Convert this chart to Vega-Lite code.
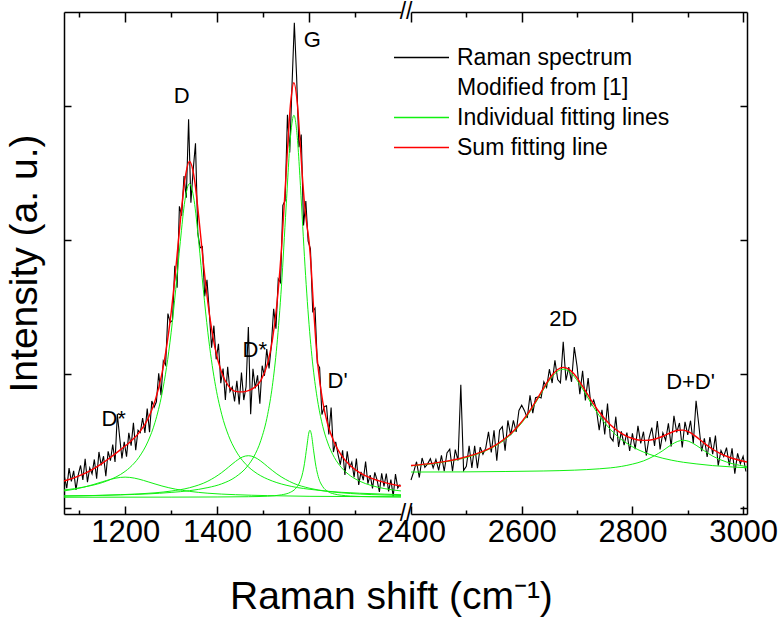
{
"$schema":"https://vega.github.io/schema/vega-lite/v6.json",
"padding":{"left":5,"top":1,"right":2,"bottom":4},
"config":{"view":{"stroke":null},"font":"Liberation Sans",
"axis":{"domainColor":"#000","domainWidth":1.5,"tickColor":"#000","tickWidth":1.5,"labelColor":"#000","labelFont":"Liberation Sans","labelFontSize":31,"labelFlush":false,"labelOverlap":false,"grid":false,"titleColor":"#000","titleFont":"Liberation Sans","titleFontWeight":"normal"}},
"title":{"text":"Raman shift (cm⁻¹)","orient":"bottom","anchor":"middle","fontSize":39,"font":"Liberation Sans","fontWeight":"normal","color":"#000","offset":31},
"datasets":{
"specL":[{"x":1068,"y":0.233},{"x":1073,"y":0.147},{"x":1078,"y":0.297},{"x":1083,"y":0.199},{"x":1088,"y":0.277},{"x":1093,"y":0.135},{"x":1098,"y":0.247},{"x":1103,"y":0.317},{"x":1108,"y":0.209},{"x":1113,"y":0.366},{"x":1118,"y":0.193},{"x":1123,"y":0.299},{"x":1128,"y":0.254},{"x":1133,"y":0.362},{"x":1138,"y":0.219},{"x":1143,"y":0.418},{"x":1148,"y":0.317},{"x":1153,"y":0.386},{"x":1158,"y":0.237},{"x":1163,"y":0.423},{"x":1168,"y":0.353},{"x":1173,"y":0.473},{"x":1178,"y":0.344},{"x":1183,"y":0.700},{"x":1188,"y":0.529},{"x":1193,"y":0.370},{"x":1198,"y":0.494},{"x":1203,"y":0.383},{"x":1208,"y":0.560},{"x":1213,"y":0.464},{"x":1218,"y":0.635},{"x":1223,"y":0.431},{"x":1228,"y":0.580},{"x":1233,"y":0.562},{"x":1238,"y":0.671},{"x":1243,"y":0.560},{"x":1248,"y":0.742},{"x":1253,"y":0.565},{"x":1258,"y":0.798},{"x":1263,"y":0.751},{"x":1268,"y":0.792},{"x":1273,"y":1.005},{"x":1278,"y":0.842},{"x":1283,"y":1.098},{"x":1288,"y":1.067},{"x":1293,"y":1.450},{"x":1298,"y":1.384},{"x":1303,"y":1.400},{"x":1308,"y":1.807},{"x":1313,"y":1.643},{"x":1318,"y":2.250},{"x":1323,"y":2.180},{"x":1328,"y":2.477},{"x":1333,"y":2.314},{"x":1338,"y":2.900},{"x":1343,"y":2.278},{"x":1348,"y":2.523},{"x":1353,"y":2.720},{"x":1358,"y":2.050},{"x":1363,"y":1.941},{"x":1368,"y":1.950},{"x":1373,"y":1.579},{"x":1378,"y":1.702},{"x":1383,"y":1.464},{"x":1388,"y":1.195},{"x":1393,"y":1.360},{"x":1398,"y":1.109},{"x":1403,"y":1.225},{"x":1408,"y":0.931},{"x":1413,"y":1.040},{"x":1418,"y":0.806},{"x":1423,"y":1.053},{"x":1428,"y":0.869},{"x":1433,"y":0.903},{"x":1438,"y":0.795},{"x":1443,"y":0.949},{"x":1448,"y":0.773},{"x":1453,"y":1.010},{"x":1458,"y":0.805},{"x":1463,"y":0.904},{"x":1468,"y":1.350},{"x":1473,"y":0.700},{"x":1478,"y":1.039},{"x":1483,"y":0.892},{"x":1488,"y":0.990},{"x":1493,"y":0.778},{"x":1498,"y":1.061},{"x":1503,"y":0.986},{"x":1508,"y":1.186},{"x":1513,"y":1.041},{"x":1518,"y":1.214},{"x":1523,"y":1.486},{"x":1528,"y":1.338},{"x":1533,"y":1.710},{"x":1538,"y":1.681},{"x":1543,"y":2.258},{"x":1548,"y":2.293},{"x":1553,"y":2.933},{"x":1558,"y":2.652},{"x":1563,"y":3.159},{"x":1568,"y":3.620},{"x":1573,"y":3.213},{"x":1578,"y":2.691},{"x":1583,"y":2.786},{"x":1588,"y":2.107},{"x":1593,"y":2.289},{"x":1598,"y":1.991},{"x":1603,"y":1.934},{"x":1608,"y":1.466},{"x":1613,"y":1.490},{"x":1618,"y":1.078},{"x":1623,"y":1.046},{"x":1628,"y":0.697},{"x":1633,"y":0.756},{"x":1638,"y":0.762},{"x":1643,"y":0.549},{"x":1648,"y":0.750},{"x":1653,"y":0.417},{"x":1658,"y":0.494},{"x":1663,"y":0.400},{"x":1668,"y":0.323},{"x":1673,"y":0.430},{"x":1678,"y":0.246},{"x":1683,"y":0.423},{"x":1688,"y":0.301},{"x":1693,"y":0.341},{"x":1698,"y":0.229},{"x":1703,"y":0.369},{"x":1708,"y":0.172},{"x":1713,"y":0.269},{"x":1718,"y":0.208},{"x":1723,"y":0.347},{"x":1728,"y":0.181},{"x":1733,"y":0.245},{"x":1738,"y":0.146},{"x":1743,"y":0.266},{"x":1748,"y":0.208},{"x":1753,"y":0.120},{"x":1758,"y":0.258},{"x":1763,"y":0.160},{"x":1768,"y":0.257},{"x":1773,"y":0.124},{"x":1778,"y":0.211},{"x":1783,"y":0.086},{"x":1788,"y":0.253},{"x":1793,"y":0.149},{"x":1798,"y":0.175}],
"fitL":[{"c":"D","x":1067,"y":0.134},{"c":"D","x":1090,"y":0.144},{"c":"D","x":1110,"y":0.156},{"c":"D","x":1130,"y":0.170},{"c":"D","x":1150,"y":0.189},{"c":"D","x":1170,"y":0.215},{"c":"D","x":1190,"y":0.250},{"c":"D","x":1200,"y":0.273},{"c":"D","x":1210,"y":0.301},{"c":"D","x":1230,"y":0.378},{"c":"D","x":1250,"y":0.499},{"c":"D","x":1265,"y":0.639},{"c":"D","x":1280,"y":0.850},{"c":"D","x":1290,"y":1.048},{"c":"D","x":1300,"y":1.307},{"c":"D","x":1310,"y":1.630},{"c":"D","x":1320,"y":1.987},{"c":"D","x":1330,"y":2.294},{"c":"D","x":1340,"y":2.420},{"c":"D","x":1350,"y":2.294},{"c":"D","x":1360,"y":1.987},{"c":"D","x":1370,"y":1.630},{"c":"D","x":1380,"y":1.307},{"c":"D","x":1395,"y":0.942},{"c":"D","x":1410,"y":0.699},{"c":"D","x":1425,"y":0.539},{"c":"D","x":1440,"y":0.431},{"c":"D","x":1455,"y":0.355},{"c":"D","x":1468,"y":0.307},{"c":"D","x":1480,"y":0.273},{"c":"D","x":1495,"y":0.240},{"c":"D","x":1510,"y":0.215},{"c":"D","x":1530,"y":0.189},{"c":"D","x":1550,"y":0.170},{"c":"D","x":1575,"y":0.152},{"c":"D","x":1600,"y":0.140},{"c":"D","x":1630,"y":0.128},{"c":"D","x":1670,"y":0.117},{"c":"D","x":1710,"y":0.110},{"c":"D","x":1765,"y":0.103},{"c":"D","x":1800,"y":0.099},
{"c":"G","x":1067,"y":0.090},{"c":"G","x":1130,"y":0.093},{"c":"G","x":1190,"y":0.098},{"c":"G","x":1250,"y":0.105},{"c":"G","x":1300,"y":0.116},{"c":"G","x":1340,"y":0.129},{"c":"G","x":1380,"y":0.152},{"c":"G","x":1410,"y":0.180},{"c":"G","x":1440,"y":0.231},{"c":"G","x":1468,"y":0.320},{"c":"G","x":1480,"y":0.383},{"c":"G","x":1495,"y":0.502},{"c":"G","x":1510,"y":0.698},{"c":"G","x":1520,"y":0.905},{"c":"G","x":1530,"y":1.211},{"c":"G","x":1540,"y":1.655},{"c":"G","x":1550,"y":2.238},{"c":"G","x":1560,"y":2.783},{"c":"G","x":1567,"y":2.930},{"c":"G","x":1575,"y":2.741},{"c":"G","x":1580,"y":2.479},{"c":"G","x":1585,"y":2.176},{"c":"G","x":1590,"y":1.875},{"c":"G","x":1595,"y":1.603},{"c":"G","x":1600,"y":1.370},{"c":"G","x":1605,"y":1.174},{"c":"G","x":1610,"y":1.013},{"c":"G","x":1615,"y":0.881},{"c":"G","x":1620,"y":0.772},{"c":"G","x":1630,"y":0.607},{"c":"G","x":1640,"y":0.492},{"c":"G","x":1655,"y":0.377},{"c":"G","x":1670,"y":0.303},{"c":"G","x":1690,"y":0.240},{"c":"G","x":1710,"y":0.200},{"c":"G","x":1735,"y":0.168},{"c":"G","x":1765,"y":0.144},{"c":"G","x":1800,"y":0.127},
{"c":"D2","x":1067,"y":0.089},{"c":"D2","x":1110,"y":0.091},{"c":"D2","x":1150,"y":0.094},{"c":"D2","x":1190,"y":0.099},{"c":"D2","x":1230,"y":0.105},{"c":"D2","x":1265,"y":0.113},{"c":"D2","x":1300,"y":0.126},{"c":"D2","x":1340,"y":0.151},{"c":"D2","x":1380,"y":0.200},{"c":"D2","x":1410,"y":0.264},{"c":"D2","x":1425,"y":0.305},{"c":"D2","x":1440,"y":0.347},{"c":"D2","x":1455,"y":0.380},{"c":"D2","x":1468,"y":0.390},{"c":"D2","x":1480,"y":0.381},{"c":"D2","x":1495,"y":0.350},{"c":"D2","x":1510,"y":0.308},{"c":"D2","x":1530,"y":0.254},{"c":"D2","x":1567,"y":0.183},{"c":"D2","x":1600,"y":0.148},{"c":"D2","x":1640,"y":0.124},{"c":"D2","x":1690,"y":0.108},{"c":"D2","x":1735,"y":0.100},{"c":"D2","x":1800,"y":0.093},
{"c":"Dp","x":1067,"y":0.080},{"c":"Dp","x":1300,"y":0.081},{"c":"Dp","x":1400,"y":0.082},{"c":"Dp","x":1468,"y":0.084},{"c":"Dp","x":1510,"y":0.088},{"c":"Dp","x":1540,"y":0.098},{"c":"Dp","x":1560,"y":0.118},{"c":"Dp","x":1570,"y":0.142},{"c":"Dp","x":1580,"y":0.195},{"c":"Dp","x":1585,"y":0.246},{"c":"Dp","x":1590,"y":0.330},{"c":"Dp","x":1595,"y":0.453},{"c":"Dp","x":1600,"y":0.567},{"c":"Dp","x":1602,"y":0.580},{"c":"Dp","x":1605,"y":0.551},{"c":"Dp","x":1610,"y":0.426},{"c":"Dp","x":1615,"y":0.310},{"c":"Dp","x":1620,"y":0.234},{"c":"Dp","x":1630,"y":0.158},{"c":"Dp","x":1640,"y":0.125},{"c":"Dp","x":1655,"y":0.104},{"c":"Dp","x":1670,"y":0.095},{"c":"Dp","x":1690,"y":0.089},{"c":"Dp","x":1735,"y":0.084},{"c":"Dp","x":1800,"y":0.082},
{"c":"Ds","x":1067,"y":0.127},{"c":"Ds","x":1090,"y":0.140},{"c":"Ds","x":1110,"y":0.155},{"c":"Ds","x":1130,"y":0.174},{"c":"Ds","x":1150,"y":0.195},{"c":"Ds","x":1170,"y":0.215},{"c":"Ds","x":1190,"y":0.228},{"c":"Ds","x":1200,"y":0.230},{"c":"Ds","x":1210,"y":0.228},{"c":"Ds","x":1230,"y":0.215},{"c":"Ds","x":1250,"y":0.195},{"c":"Ds","x":1280,"y":0.164},{"c":"Ds","x":1310,"y":0.140},{"c":"Ds","x":1340,"y":0.124},{"c":"Ds","x":1380,"y":0.110},{"c":"Ds","x":1440,"y":0.099},{"c":"Ds","x":1510,"y":0.092},{"c":"Ds","x":1600,"y":0.087},{"c":"Ds","x":1700,"y":0.085},{"c":"Ds","x":1800,"y":0.083}],
"sumL":[{"x":1067,"y":0.201},{"x":1090,"y":0.226},{"x":1110,"y":0.254},{"x":1130,"y":0.290},{"x":1150,"y":0.333},{"x":1170,"y":0.382},{"x":1190,"y":0.435},{"x":1200,"y":0.462},{"x":1210,"y":0.491},{"x":1230,"y":0.560},{"x":1250,"y":0.668},{"x":1265,"y":0.799},{"x":1280,"y":1.003},{"x":1290,"y":1.198},{"x":1300,"y":1.456},{"x":1310,"y":1.780},{"x":1320,"y":2.140},{"x":1330,"y":2.452},{"x":1340,"y":2.585},{"x":1350,"y":2.469},{"x":1360,"y":2.175},{"x":1370,"y":1.833},{"x":1380,"y":1.530},{"x":1395,"y":1.202},{"x":1410,"y":1.009},{"x":1425,"y":0.909},{"x":1440,"y":0.870},{"x":1455,"y":0.866},{"x":1468,"y":0.876},{"x":1480,"y":0.896},{"x":1495,"y":0.950},{"x":1510,"y":1.081},{"x":1520,"y":1.247},{"x":1530,"y":1.518},{"x":1540,"y":1.932},{"x":1550,"y":2.492},{"x":1560,"y":3.026},{"x":1567,"y":3.172},{"x":1575,"y":2.997},{"x":1580,"y":2.759},{"x":1585,"y":2.498},{"x":1590,"y":2.274},{"x":1595,"y":2.118},{"x":1600,"y":1.991},{"x":1605,"y":1.774},{"x":1610,"y":1.482},{"x":1615,"y":1.228},{"x":1620,"y":1.038},{"x":1630,"y":0.788},{"x":1640,"y":0.632},{"x":1655,"y":0.486},{"x":1670,"y":0.394},{"x":1690,"y":0.315},{"x":1710,"y":0.264},{"x":1735,"y":0.222},{"x":1765,"y":0.189},{"x":1800,"y":0.164}],
"specR":[{"x":2400,"y":0.209},{"x":2405,"y":0.271},{"x":2410,"y":0.345},{"x":2415,"y":0.227},{"x":2420,"y":0.373},{"x":2425,"y":0.303},{"x":2430,"y":0.329},{"x":2435,"y":0.368},{"x":2440,"y":0.299},{"x":2445,"y":0.362},{"x":2450,"y":0.281},{"x":2455,"y":0.392},{"x":2460,"y":0.274},{"x":2465,"y":0.410},{"x":2470,"y":0.438},{"x":2475,"y":0.274},{"x":2480,"y":0.436},{"x":2485,"y":0.354},{"x":2490,"y":0.920},{"x":2495,"y":0.280},{"x":2500,"y":0.310},{"x":2505,"y":0.463},{"x":2510,"y":0.298},{"x":2515,"y":0.463},{"x":2520,"y":0.296},{"x":2525,"y":0.454},{"x":2530,"y":0.400},{"x":2535,"y":0.446},{"x":2540,"y":0.568},{"x":2545,"y":0.414},{"x":2550,"y":0.579},{"x":2555,"y":0.352},{"x":2560,"y":0.580},{"x":2565,"y":0.606},{"x":2570,"y":0.428},{"x":2575,"y":0.653},{"x":2580,"y":0.543},{"x":2585,"y":0.653},{"x":2590,"y":0.567},{"x":2595,"y":0.727},{"x":2600,"y":0.766},{"x":2605,"y":0.726},{"x":2610,"y":0.671},{"x":2615,"y":0.841},{"x":2620,"y":0.707},{"x":2625,"y":0.823},{"x":2630,"y":0.829},{"x":2635,"y":0.821},{"x":2640,"y":0.942},{"x":2645,"y":0.899},{"x":2650,"y":1.035},{"x":2655,"y":0.932},{"x":2660,"y":1.102},{"x":2665,"y":0.958},{"x":2670,"y":0.934},{"x":2675,"y":1.240},{"x":2680,"y":0.951},{"x":2685,"y":1.051},{"x":2690,"y":0.941},{"x":2695,"y":1.200},{"x":2700,"y":1.056},{"x":2705,"y":0.849},{"x":2710,"y":1.024},{"x":2715,"y":0.802},{"x":2720,"y":0.969},{"x":2725,"y":0.765},{"x":2730,"y":0.806},{"x":2735,"y":0.733},{"x":2740,"y":0.580},{"x":2745,"y":0.733},{"x":2750,"y":0.548},{"x":2755,"y":0.779},{"x":2760,"y":0.528},{"x":2765,"y":0.499},{"x":2770,"y":0.681},{"x":2775,"y":0.456},{"x":2780,"y":0.571},{"x":2785,"y":0.469},{"x":2790,"y":0.563},{"x":2795,"y":0.425},{"x":2800,"y":0.557},{"x":2805,"y":0.438},{"x":2810,"y":0.613},{"x":2815,"y":0.482},{"x":2820,"y":0.569},{"x":2825,"y":0.391},{"x":2830,"y":0.522},{"x":2835,"y":0.600},{"x":2840,"y":0.462},{"x":2845,"y":0.649},{"x":2850,"y":0.437},{"x":2855,"y":0.561},{"x":2860,"y":0.505},{"x":2865,"y":0.632},{"x":2870,"y":0.458},{"x":2875,"y":0.687},{"x":2880,"y":0.564},{"x":2885,"y":0.634},{"x":2890,"y":0.451},{"x":2895,"y":0.643},{"x":2900,"y":0.545},{"x":2905,"y":0.651},{"x":2910,"y":0.481},{"x":2915,"y":0.800},{"x":2920,"y":0.617},{"x":2925,"y":0.423},{"x":2930,"y":0.520},{"x":2935,"y":0.380},{"x":2940,"y":0.528},{"x":2945,"y":0.401},{"x":2950,"y":0.540},{"x":2955,"y":0.316},{"x":2960,"y":0.428},{"x":2965,"y":0.384},{"x":2970,"y":0.450},{"x":2975,"y":0.318},{"x":2980,"y":0.445},{"x":2985,"y":0.256},{"x":2990,"y":0.408},{"x":2995,"y":0.331},{"x":3000,"y":0.386},{"x":3005,"y":0.272}],
"fitR":[{"c":"2D","x":2400,"y":0.314},{"c":"2D","x":2430,"y":0.326},{"c":"2D","x":2460,"y":0.343},{"c":"2D","x":2490,"y":0.366},{"c":"2D","x":2520,"y":0.402},{"c":"2D","x":2545,"y":0.446},{"c":"2D","x":2570,"y":0.511},{"c":"2D","x":2590,"y":0.587},{"c":"2D","x":2610,"y":0.689},{"c":"2D","x":2625,"y":0.784},{"c":"2D","x":2640,"y":0.888},{"c":"2D","x":2655,"y":0.980},{"c":"2D","x":2665,"y":1.020},{"c":"2D","x":2675,"y":1.035},{"c":"2D","x":2685,"y":1.020},{"c":"2D","x":2695,"y":0.980},{"c":"2D","x":2710,"y":0.888},{"c":"2D","x":2725,"y":0.784},{"c":"2D","x":2740,"y":0.689},{"c":"2D","x":2760,"y":0.587},{"c":"2D","x":2780,"y":0.511},{"c":"2D","x":2800,"y":0.457},{"c":"2D","x":2820,"y":0.417},{"c":"2D","x":2840,"y":0.388},{"c":"2D","x":2870,"y":0.357},{"c":"2D","x":2892,"y":0.341},{"c":"2D","x":2915,"y":0.329},{"c":"2D","x":2945,"y":0.316},{"c":"2D","x":2980,"y":0.306},{"c":"2D","x":3007,"y":0.300},
{"c":"DD","x":2400,"y":0.268},{"c":"DD","x":2490,"y":0.269},{"c":"DD","x":2570,"y":0.272},{"c":"DD","x":2640,"y":0.276},{"c":"DD","x":2695,"y":0.282},{"c":"DD","x":2740,"y":0.292},{"c":"DD","x":2760,"y":0.299},{"c":"DD","x":2780,"y":0.310},{"c":"DD","x":2800,"y":0.327},{"c":"DD","x":2820,"y":0.351},{"c":"DD","x":2840,"y":0.390},{"c":"DD","x":2855,"y":0.428},{"c":"DD","x":2870,"y":0.471},{"c":"DD","x":2882,"y":0.497},{"c":"DD","x":2892,"y":0.505},{"c":"DD","x":2902,"y":0.497},{"c":"DD","x":2915,"y":0.468},{"c":"DD","x":2930,"y":0.426},{"c":"DD","x":2945,"y":0.387},{"c":"DD","x":2960,"y":0.358},{"c":"DD","x":2980,"y":0.331},{"c":"DD","x":3007,"y":0.308}],
"sumR":[{"x":2400,"y":0.317},{"x":2430,"y":0.329},{"x":2460,"y":0.346},{"x":2490,"y":0.371},{"x":2520,"y":0.407},{"x":2545,"y":0.451},{"x":2570,"y":0.518},{"x":2590,"y":0.594},{"x":2610,"y":0.698},{"x":2625,"y":0.794},{"x":2640,"y":0.898},{"x":2655,"y":0.992},{"x":2665,"y":1.033},{"x":2675,"y":1.049},{"x":2685,"y":1.036},{"x":2695,"y":0.997},{"x":2710,"y":0.907},{"x":2725,"y":0.807},{"x":2740,"y":0.716},{"x":2760,"y":0.621},{"x":2780,"y":0.557},{"x":2800,"y":0.518},{"x":2820,"y":0.504},{"x":2840,"y":0.513},{"x":2855,"y":0.535},{"x":2870,"y":0.563},{"x":2882,"y":0.580},{"x":2892,"y":0.581},{"x":2902,"y":0.567},{"x":2915,"y":0.532},{"x":2930,"y":0.482},{"x":2945,"y":0.438},{"x":2960,"y":0.404},{"x":2980,"y":0.371},{"x":3007,"y":0.343}],
"labL":[{"x":1323,"y":3.07,"t":"D"},{"x":1607,"y":3.49,"t":"G"},{"x":1175,"y":0.66,"t":"D*"},{"x":1482,"y":1.175,"t":"D*"},{"x":1662,"y":0.944,"t":"D'"}],
"labR":[{"x":2675,"y":1.407,"t":"2D"},{"x":2905,"y":0.937,"t":"D+D'"}],
"brk":[{"x":1811,"y":-0.045,"t":"//"},{"x":1811,"y":3.7,"t":"//"}]
},
"spacing":10,
"bounds":"flush",
"hconcat":[
{"width":337,"height":502,
"layer":[
{"data":{"name":"specL"},"mark":{"type":"line","strokeWidth":1.1},
"encoding":{"x":{"field":"x","type":"quantitative","scale":{"domain":[1067,1800],"nice":false,"zero":false},"axis":{"orient":"bottom","values":[1200,1400,1600],"format":"d","tickSize":-8,"labelPadding":11,"labelFontSize":31,"labelFlush":false,"title":null}},
"y":{"field":"y","type":"quantitative","scale":{"domain":[-0.045,3.7],"nice":false,"zero":false},"axis":{"orient":"left","values":[0,1,2,3],"tickSize":-7,"labels":false,"title":"Intensity (a. u.)","titleFontSize":39,"titlePadding":19}},
"color":{"datum":"Raman spectrum","type":"nominal","scale":{"domain":["Raman spectrum","Modified from [1]","Individual fitting lines","Sum fitting line"],"range":["#000000","rgba(0,0,0,0)","#10f010","#ff0000"]},
"legend":{"title":null,"orient":"none","legendX":324,"legendY":34,"symbolType":"M-1,0H9","symbolSize":121,"symbolStrokeWidth":1.3,"labelFontSize":23,"labelFont":"Liberation Sans","labelColor":"#000","labelOffset":46,"labelLimit":0,"rowPadding":6,"padding":0}}}},
{"data":{"name":"fitL"},"mark":{"type":"line","strokeWidth":1,"interpolate":"monotone"},
"encoding":{"x":{"field":"x","type":"quantitative","axis":{"orient":"bottom","values":[1100,1300,1500,1700],"tickSize":-4,"labels":false,"domain":false,"title":null}},
"y":{"field":"y","type":"quantitative","axis":null},"detail":{"field":"c"},"color":{"datum":"Individual fitting lines","type":"nominal"}}},
{"data":{"name":"sumL"},"mark":{"type":"line","strokeWidth":1.4,"interpolate":"monotone"},
"encoding":{"x":{"field":"x","type":"quantitative","axis":{"orient":"top","values":[1200,1400,1600],"tickSize":-10,"labels":false,"title":null}},
"y":{"field":"y","type":"quantitative","axis":null},"color":{"datum":"Sum fitting line","type":"nominal"}}},
{"data":{"name":"labL"},"mark":{"type":"text","fontSize":22,"align":"center","baseline":"middle","color":"#000","font":"Liberation Sans"},
"encoding":{"x":{"field":"x","type":"quantitative","axis":{"orient":"top","values":[1100,1300,1500,1700],"tickSize":-5,"labels":false,"domain":false,"title":null}},
"y":{"field":"y","type":"quantitative","axis":null},"text":{"field":"t"}}},
{"data":{"name":"brk"},"mark":{"type":"text","fontSize":23,"align":"center","baseline":"middle","color":"#000","font":"Liberation Sans"},
"encoding":{"x":{"field":"x","type":"quantitative","axis":null},"y":{"field":"y","type":"quantitative","axis":null},"text":{"field":"t"}}}
],
"resolve":{"axis":{"x":"independent","y":"independent"}}},
{"width":336,"height":502,
"layer":[
{"data":{"name":"specR"},"mark":{"type":"line","strokeWidth":1.1},
"encoding":{"x":{"field":"x","type":"quantitative","scale":{"domain":[2400,3007],"nice":false,"zero":false},"axis":{"orient":"bottom","values":[2400,2600,2800,3000],"format":"d","tickSize":-8,"labelPadding":11,"labelFontSize":31,"labelFlush":false,"title":null}},
"y":{"field":"y","type":"quantitative","scale":{"domain":[-0.045,3.7],"nice":false,"zero":false},"axis":{"orient":"right","values":[0,1,2,3],"tickSize":-7,"labels":false,"title":null}},
"color":{"datum":"Raman spectrum","type":"nominal"}}},
{"data":{"name":"fitR"},"mark":{"type":"line","strokeWidth":1,"interpolate":"monotone"},
"encoding":{"x":{"field":"x","type":"quantitative","axis":{"orient":"bottom","values":[2500,2700,2900],"tickSize":-4,"labels":false,"domain":false,"title":null}},
"y":{"field":"y","type":"quantitative","axis":null},"detail":{"field":"c"},"color":{"datum":"Individual fitting lines","type":"nominal"}}},
{"data":{"name":"sumR"},"mark":{"type":"line","strokeWidth":1.4,"interpolate":"monotone"},
"encoding":{"x":{"field":"x","type":"quantitative","axis":{"orient":"top","values":[2400,2600,2800,3000],"tickSize":-10,"labels":false,"title":null}},
"y":{"field":"y","type":"quantitative","axis":null},"color":{"datum":"Sum fitting line","type":"nominal"}}},
{"data":{"name":"labR"},"mark":{"type":"text","fontSize":22,"align":"center","baseline":"middle","color":"#000","font":"Liberation Sans"},
"encoding":{"x":{"field":"x","type":"quantitative","axis":{"orient":"top","values":[2500,2700,2900],"tickSize":-5,"labels":false,"domain":false,"title":null}},
"y":{"field":"y","type":"quantitative","axis":null},"text":{"field":"t"}}}
],
"resolve":{"axis":{"x":"independent","y":"independent"}}}
]
}
